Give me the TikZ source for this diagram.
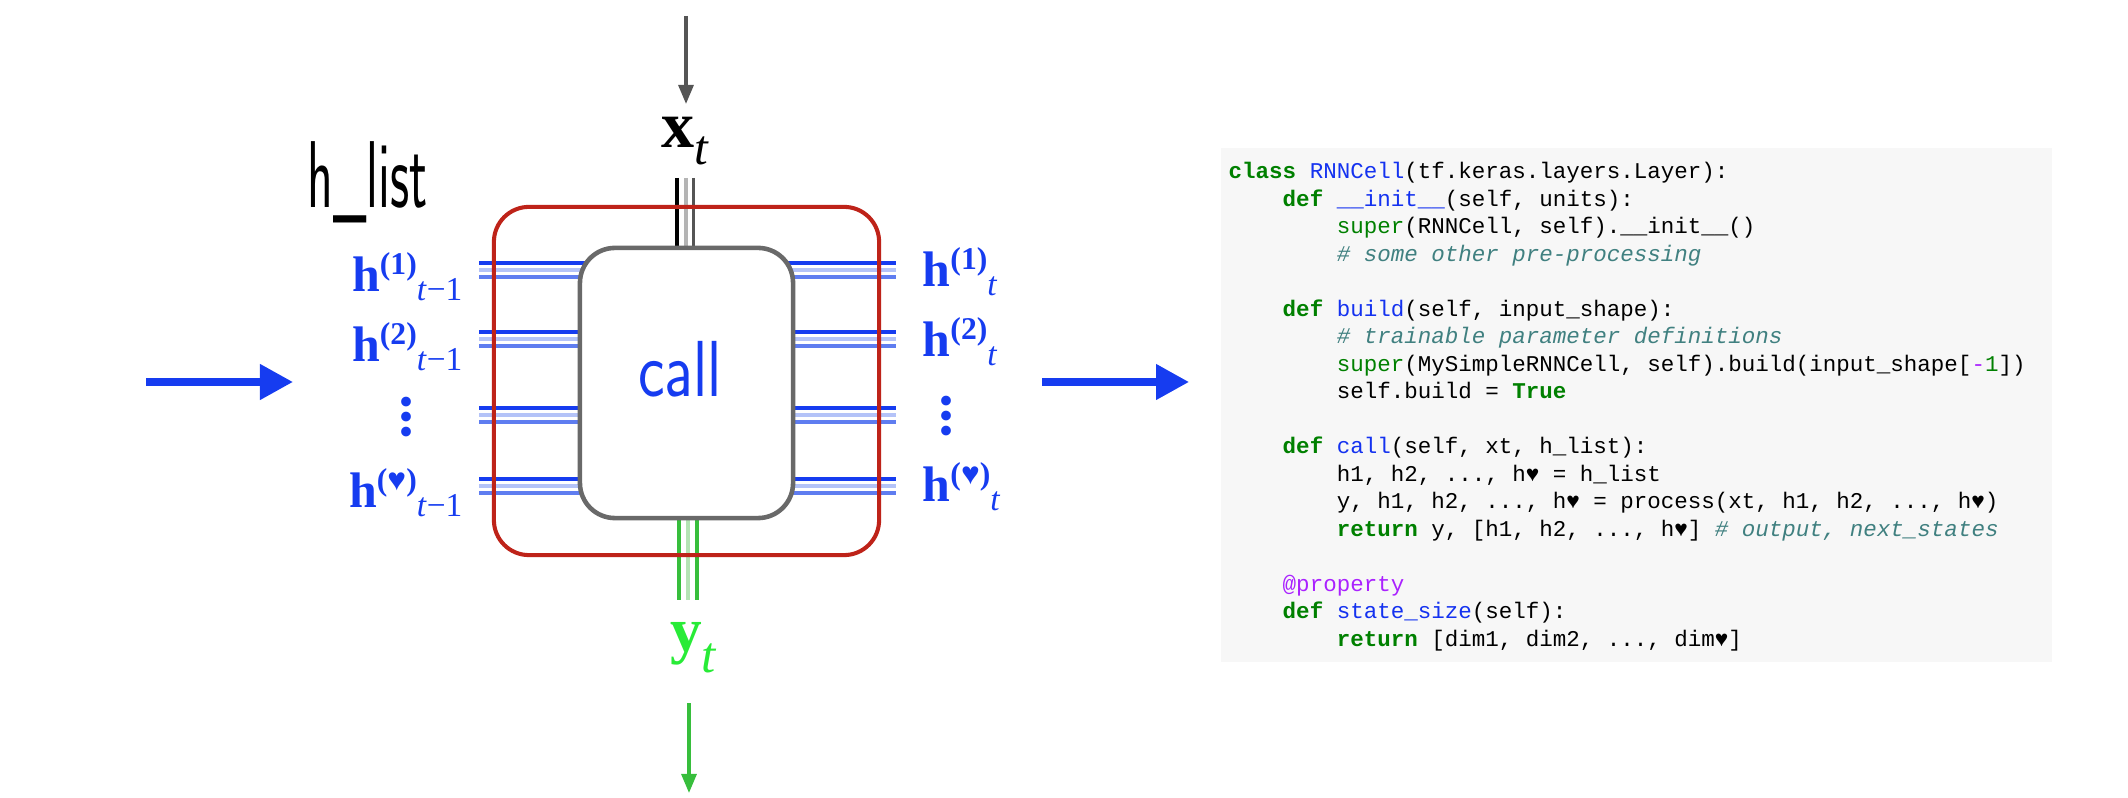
\documentclass[tikz,border=0pt]{standalone}
\usepackage{fontspec}
\setmainfont{Liberation Serif}
\setmonofont{Liberation Mono}
\usepackage{graphicx}
\usetikzlibrary{arrows.meta,positioning,backgrounds}

\definecolor{hblue}{RGB}{22,60,240}
\definecolor{hmid}{RGB}{95,125,240}
\definecolor{hlight}{RGB}{180,195,248}
\definecolor{wrapred}{RGB}{190,35,25}
\definecolor{cellgrey}{RGB}{105,105,105}
\definecolor{xgrey}{RGB}{85,85,85}
\definecolor{xlight}{RGB}{180,180,180}
\definecolor{ytext}{RGB}{40,235,55}
\definecolor{ydark}{RGB}{55,190,60}
\definecolor{ylight}{RGB}{180,228,180}
\definecolor{codebg}{RGB}{247,247,247}
\definecolor{kwgreen}{RGB}{0,128,0}
\definecolor{fnblue}{RGB}{20,50,240}
\definecolor{cmteal}{RGB}{64,128,128}
\definecolor{decpurple}{RGB}{170,34,255}

% label h^(k)_t
\newcommand\hlab[2]{\textbf{h}\raisebox{5.1pt}{\fontsize{9}{10}\selectfont\bfseries(#1)}\raisebox{-2.3pt}{\fontsize{9.5}{10}\selectfont #2}}
% code colouring
\newcommand\kwd[1]{\textcolor{kwgreen}{\bfseries #1}}
\newcommand\fnc[1]{\textcolor{fnblue}{#1}}
\newcommand\bltn[1]{\textcolor{kwgreen}{#1}}
\newcommand\cmt[1]{\textcolor{cmteal}{\itshape #1}}
\newcommand\dec[1]{\textcolor{decpurple}{#1}}
\newcommand\ind[1]{\hspace*{#1em}}

\begin{document}
\begin{tikzpicture}[x=0.01cm,y=-0.01cm,
  bigarrow/.style={draw=hblue,line width=2.1pt,-{Triangle[length=0.33cm,width=0.34cm]}},
  thinarrow/.style={line width=0.9pt,-{Triangle[length=0.19cm,width=0.15cm]}},
  strand/.style={line width=1.1pt},
  hlabel/.style={text=hblue,font=\fontsize{14.2}{16}\selectfont,inner sep=0pt},
  dotlabel/.style={text=hblue,font=\fontsize{17}{18}\selectfont\bfseries,inner sep=0pt,
    rotate=90,text height=2.4pt,text depth=0pt},
  hand/.style={font=\sffamily,inner sep=0pt}]

  \useasboundingbox (0,0) rectangle (2128,798);

  % boxes
  \node (wrap) [draw=wrapred,line width=1.15pt,rounded corners=0.35cm,
    minimum width=3.85cm,minimum height=3.48cm,inner sep=0] at (686.5,381) {};
  \node (cell) [draw=cellgrey,fill=white,line width=1.3pt,rounded corners=0.35cm,
    minimum width=2.13cm,minimum height=2.70cm,inner sep=0] at (686.5,383) {};
  \node (calltxt) [hand,anchor=base,text=hblue,font=\sffamily\fontsize{22.6}{26}\selectfont]
    at (680,397) {\scalebox{0.8}[1]{call}};
  \node (hlist) [hand,anchor=base west,font=\sffamily\fontsize{27}{30}\selectfont]
    at (307,208) {\scalebox{0.56}[1]{h\_list}};

  % input and output
  \node (xt) [anchor=base,inner sep=0,font=\fontsize{18.8}{20}\selectfont] at (685,148)
    {\textbf{x}\raisebox{-4.8pt}{\fontsize{14}{16}\selectfont\itshape t}};
  \node (yt) [anchor=base,inner sep=0,text=ytext,font=\fontsize{18}{20}\selectfont] at (693,652)
    {\textbf{y}\raisebox{-5.7pt}{\fontsize{14.5}{16}\selectfont\itshape t}};

  % states
  \node (hl1) [hlabel,anchor=base east] at (463,292) {\hlab{1}{\textit{t}−1}};
  \node (hl2) [hlabel,anchor=base east] at (463,362) {\hlab{2}{\textit{t}−1}};
  \node (hl3) [dotlabel] at (406,417) {...};
  \node (hl4) [hlabel,anchor=base east] at (463,508) {\hlab{♥}{\textit{t}−1}};
  \node (hr1) [hlabel,anchor=base west] at (922,287) {\hlab{1}{\textit{t}}};
  \node (hr2) [hlabel,anchor=base west] at (922,357) {\hlab{2}{\textit{t}}};
  \node (hr3) [dotlabel] at (946,416) {...};
  \node (hr4) [hlabel,anchor=base west] at (922,502) {\hlab{♥}{\textit{t}}};

  \begin{scope}[on background layer]
  \foreach \sy [count=\i] in {263,332,408,479} {
    \coordinate (sl\i) at (479,\sy);
    \coordinate (sr\i) at (896,\sy);
    \draw[strand,hblue] (sl\i) -- (sr\i);
    \draw[strand,hlight,line width=0.9pt] ([yshift=-0.07cm]sl\i) -- ([yshift=-0.07cm]sr\i);
    \draw[strand,hmid] ([yshift=-0.14cm]sl\i) -- ([yshift=-0.14cm]sr\i);
  }
  \coordinate (xs) at (686,178);
  \draw[line width=1pt,black] ([xshift=-0.09cm]xs) -- ++(0,120);
  \draw[line width=1pt,xlight] (xs) -- ++(0,120);
  \draw[line width=1pt,xgrey] ([xshift=0.075cm]xs) -- ++(0,120);
  \coordinate (ys) at (688,600);
  \draw[line width=1pt,ydark] ([xshift=-0.09cm]ys) -- ++(0,-120);
  \draw[line width=1pt,ylight] (ys) -- ++(0,-120);
  \draw[line width=1pt,ydark] ([xshift=0.09cm]ys) -- ++(0,-120);
  \end{scope}

  \coordinate (xin) at (686,16);
  \draw[thinarrow,xgrey,shorten >=0.13cm] (xin) -- (xin |- xt.north);
  \coordinate (yout) at (689,793);
  \draw[thinarrow,ydark,shorten <=0.3cm] (yt.south -| yout) -- (yout);

  % code
  \node (code) [fill=codebg,minimum width=8.31cm,minimum height=5.14cm,inner sep=0]
    at (1636.5,405) {};
  \node (src) [anchor=base west,align=left,inner sep=0,
    font=\fontsize{6.4pt}{7.82pt}\selectfont\ttfamily] at (1228,646.5) {%
\kwd{class} \fnc{RNNCell}(tf.keras.layers.Layer):\\
\ind{2.4}\kwd{def} \fnc{\_\_init\_\_}(self, units):\\
\ind{4.8}\bltn{super}(RNNCell, self).\_\_init\_\_()\\
\ind{4.8}\cmt{\# some other pre-processing}\\
\mbox{}\\
\ind{2.4}\kwd{def} \fnc{build}(self, input\_shape):\\
\ind{4.8}\cmt{\# trainable parameter definitions}\\
\ind{4.8}\bltn{super}(MySimpleRNNCell, self).build(input\_shape[\dec{-}\bltn{1}])\\
\ind{4.8}self.build = \kwd{True}\\
\mbox{}\\
\ind{2.4}\kwd{def} \fnc{call}(self, xt, h\_list):\\
\ind{4.8}h1, h2, ..., h♥ = h\_list\\
\ind{4.8}y, h1, h2, ..., h♥ = process(xt, h1, h2, ..., h♥)\\
\ind{4.8}\kwd{return} y, [h1, h2, ..., h♥] \cmt{\# output, next\_states}\\
\mbox{}\\
\ind{2.4}\dec{@property}\\
\ind{2.4}\kwd{def} \fnc{state\_size}(self):\\
\ind{4.8}\kwd{return} [dim1, dim2, ..., dim♥]};

  % flow
  \coordinate (lin) at (146,382);
  \coordinate (lout) at (293,382);
  \draw[bigarrow] (lin) -- (lout);
  \coordinate (rin) at (1042,382);
  \draw[bigarrow,shorten >=0.31cm] (rin) -- (rin -| code.west);
\end{tikzpicture}
\end{document}
